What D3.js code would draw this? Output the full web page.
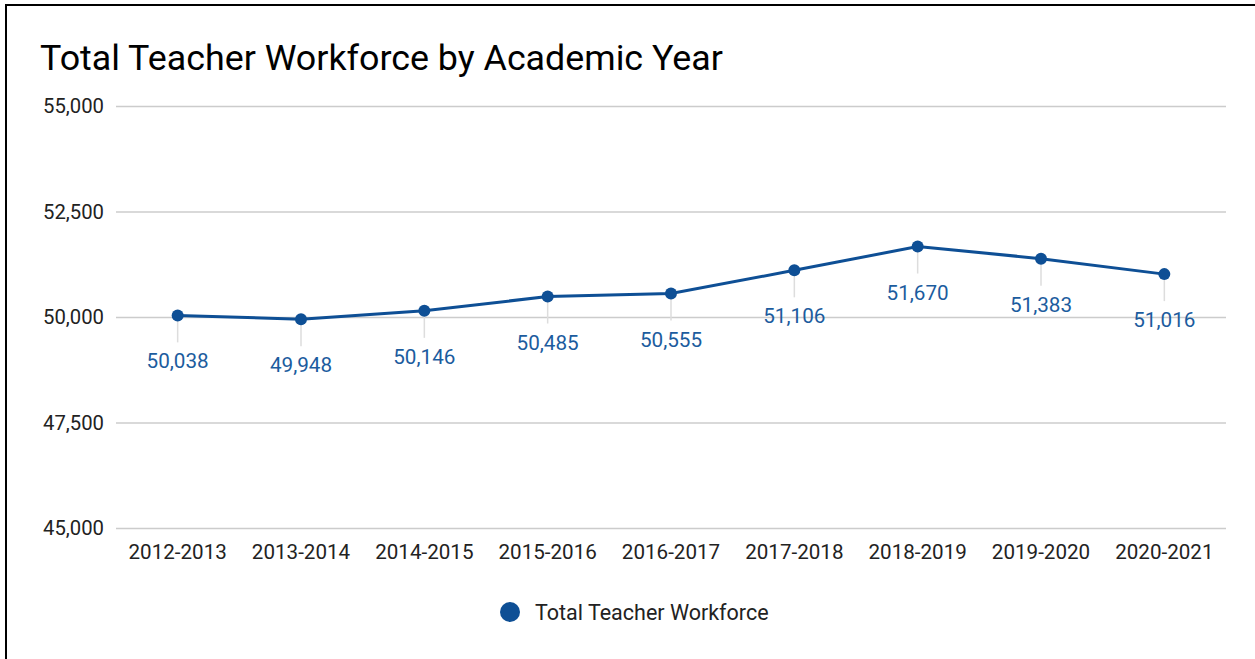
<!DOCTYPE html>
<html><head><meta charset="utf-8">
<script src="https://cdn.jsdelivr.net/npm/d3@7"></script>
<style>
html,body{margin:0;padding:0;background:#fff;}
svg{display:block;font-family:Roboto, "Noto Sans", sans-serif;}
</style></head>
<body>
<svg id="chart" width="1255" height="659"></svg>
<script>
const categories = ["2012-2013","2013-2014","2014-2015","2015-2016","2016-2017","2017-2018","2018-2019","2019-2020","2020-2021"];
const values = [50038, 49948, 50146, 50485, 50555, 51106, 51670, 51383, 51016];
const yTicks = [45000, 47500, 50000, 52500, 55000];
const seriesName = "Total Teacher Workforce";
const title = "Total Teacher Workforce by Academic Year";

const svg = d3.select("#chart");
const W = 1255, H = 659;
const m = {left:116, right:1226, top:105, bottom:527};
const lineColor = "#0e4f95", labelColor = "#1c5c9e";

// frame (left and top borders)
svg.append("line").attr("x1",6).attr("x2",6).attr("y1",4).attr("y2",H).attr("stroke","#000").attr("stroke-width",2);
svg.append("line").attr("x1",5).attr("x2",W).attr("y1",5).attr("y2",5).attr("stroke","#000").attr("stroke-width",2);

svg.append("text").attr("x",40).attr("y",70).attr("font-size",35.8).attr("fill","#000").text(title);

const x = d3.scaleBand().domain(categories).range([m.left, m.right]);
const y = d3.scaleLinear().domain([45000,55000]).range([m.bottom+1, m.top+1]);

const yAxis = svg.append("g").attr("transform",`translate(${m.left},0)`)
  .call(d3.axisLeft(y).tickValues(yTicks).tickSize(-(m.right-m.left)).tickFormat(d3.format(",")));
yAxis.select(".domain").remove();
yAxis.selectAll(".tick line").attr("stroke","#cccccc").attr("stroke-width",1.5);
yAxis.selectAll(".tick text").attr("x",-12).attr("font-size",20.3).attr("fill","#222").attr("font-family","Roboto");

const xAxis = svg.append("g").attr("transform",`translate(0,${m.bottom})`)
  .call(d3.axisBottom(x).tickSize(0).tickPadding(17));
xAxis.select(".domain").remove();
xAxis.selectAll(".tick text").attr("font-size",20.6).attr("fill","#222").attr("font-family","Roboto");

const cx = (d,i) => x(categories[i]) + x.bandwidth()/2;

// leader lines
svg.append("g").selectAll("line").data(values).join("line")
  .attr("x1",cx).attr("x2",cx).attr("y1",d=>y(d)).attr("y2",d=>y(d)+27)
  .attr("stroke","#dddddd").attr("stroke-width",1.5);

svg.append("path").datum(values)
  .attr("d", d3.line().x(cx).y(d=>y(d)))
  .attr("fill","none").attr("stroke",lineColor).attr("stroke-width",3);

svg.append("g").selectAll("circle").data(values).join("circle")
  .attr("cx",cx).attr("cy",d=>y(d)).attr("r",6).attr("fill",lineColor);

svg.append("g").selectAll("text").data(values).join("text")
  .attr("x",cx).attr("y",d=>y(d)+53).attr("text-anchor","middle")
  .attr("font-size",20.7).attr("fill",labelColor).text(d=>d3.format(",")(d));

// legend
svg.append("circle").attr("cx",510).attr("cy",612).attr("r",10).attr("fill",lineColor);
svg.append("text").attr("x",535).attr("y",620).attr("font-size",21.5).attr("fill","#222").text(seriesName);
</script>
</body></html>
